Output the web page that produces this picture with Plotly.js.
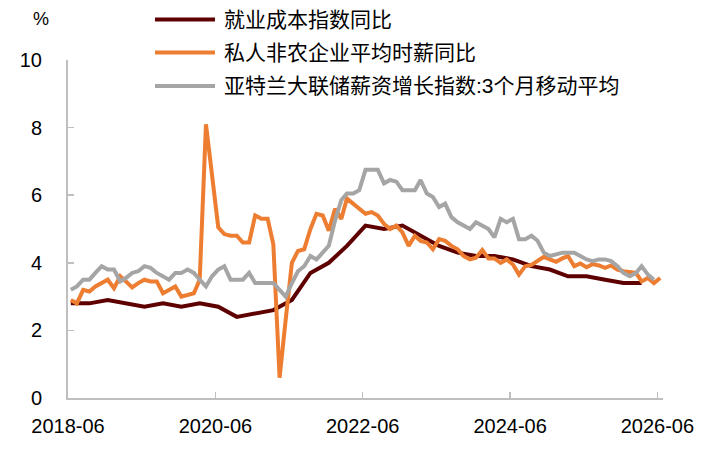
<!DOCTYPE html>
<html>
<head>
<meta charset="utf-8">
<script src="https://cdn.plot.ly/plotly-3.0.1.min.js"></script>
<style>html,body{margin:0;padding:0;background:#fff;}#chart{width:715px;height:453px;}</style>
</head>
<body>
<div id="chart"></div>
<script>
// ---- Data ----
const seriesNames = ["就业成本指数同比", "私人非农企业平均时薪同比", "亚特兰大联储薪资增长指数:3个月移动平均"];
const startYear = 2018, startMonth = 6; // first observation 2018-06

// 就业成本指数同比 (quarterly, 2018-06 .. 2026-03)
const eciValues = [2.8,2.8,2.9,2.8,2.7,2.8,2.7,2.8,2.7,2.4,
                   2.5,2.6,2.9,3.7,4.0,4.5,5.1,5.0,5.1,4.8,
                   4.5,4.3,4.2,4.2,4.1,3.9,3.8,3.6,3.6,3.5,
                   3.4,3.4];

// 私人非农企业平均时薪同比 (monthly, 2018-06 .. 2026-06)
const aheValues = [2.9,2.8,3.2,3.15,3.3,3.4,3.5,3.25,3.6,3.45,
                   3.27,3.4,3.5,3.45,3.45,3.1,3.2,3.3,3.0,3.05,
                   3.1,3.5,8.1,6.6,5.05,4.85,4.8,4.8,4.6,4.6,
                   5.4,5.3,5.3,4.55,0.6,2.3,4.0,4.35,4.4,5.0,
                   5.45,5.4,4.95,5.6,5.3,5.9,5.75,5.6,5.45,5.5,
                   5.4,5.15,5.0,5.1,4.9,4.5,4.8,4.65,4.6,4.4,
                   4.7,4.65,4.5,4.4,4.2,4.1,4.15,4.38,4.13,4.13,
                   4.0,4.1,3.95,3.65,3.9,3.94,4.05,4.18,4.1,4.03,
                   4.13,4.2,3.9,3.98,3.87,3.96,3.92,3.85,3.92,3.8,
                   3.75,3.72,3.7,3.45,3.55,3.4,3.55];

// 亚特兰大联储薪资增长指数:3个月移动平均 (monthly, 2018-06 .. 2026-05)
const atlValues = [3.2,3.3,3.5,3.5,3.7,3.9,3.8,3.8,3.45,3.55,
                   3.7,3.75,3.9,3.85,3.7,3.6,3.5,3.7,3.7,3.8,
                   3.7,3.5,3.3,3.6,3.8,3.9,3.5,3.5,3.5,3.7,
                   3.4,3.4,3.4,3.4,3.2,3.0,3.4,3.75,3.9,4.2,
                   4.1,4.3,4.5,5.25,5.85,6.05,6.05,6.15,6.75,6.75,
                   6.75,6.35,6.45,6.4,6.15,6.15,6.15,6.45,6.05,5.95,
                   5.65,5.75,5.35,5.2,5.1,5.0,5.2,5.1,5.0,4.75,
                   5.3,5.2,5.3,4.7,4.7,4.8,4.65,4.3,4.2,4.25,
                   4.3,4.3,4.3,4.2,4.1,4.05,4.1,4.1,4.05,3.9,
                   3.7,3.6,3.7,3.9,3.65,3.5];

const xTickLabelsStart = "2018-06-01";
const yTicks = [0, 2, 4, 6, 8, 10];

// ---- Date categories (mid-month positions) ----
function monthDates(n, step) {
  const out = [];
  for (let i = 0; i < n; i++) {
    const m = (startMonth - 1) + i * step;
    const y = startYear + Math.floor(m / 12);
    const mm = (m % 12) + 1;
    out.push(y + "-" + String(mm).padStart(2, "0") + "-15");
  }
  return out;
}
const eciDates = monthDates(eciValues.length, 3);
const aheDates = monthDates(aheValues.length, 1);
const atlDates = monthDates(atlValues.length, 1);

const colors = ["#5E0000", "#ED7D31", "#A5A5A5"];
const fontFam = "Liberation Sans, Arial, Noto Sans CJK SC, sans-serif";

const traces = [
  {x: eciDates, y: eciValues, name: seriesNames[0], mode: "lines", line: {color: colors[0], width: 4}},
  {x: aheDates, y: aheValues, name: seriesNames[1], mode: "lines", line: {color: colors[1], width: 4}},
  {x: atlDates, y: atlValues, name: seriesNames[2], mode: "lines", line: {color: colors[2], width: 4}}
];

// ---- Layout helpers (pixel -> paper) ----
const W = 715, H = 453, ML = 68, MR = 52, MT = 60, MB = 55;
const PW = W - ML - MR, PH = H - MT - MB;
const px = v => (v - ML) / PW;
const py = v => (H - MB - v) / PH;

const legendRows = [19.5, 52.5, 86];
const shapes = [], annotations = [];
legendRows.forEach((r, i) => {
  shapes.push({type: "line", xref: "paper", yref: "paper", x0: px(155), x1: px(215), y0: py(r), y1: py(r),
               line: {color: colors[i], width: 4}});
  annotations.push({xref: "paper", yref: "paper", x: px(222), y: py(r), xanchor: "left", yanchor: "middle",
                    text: seriesNames[i], showarrow: false, font: {family: fontFam, size: 21, color: "#000"}});
});
annotations.push({xref: "paper", yref: "paper", x: px(41), y: py(19), xanchor: "center", yanchor: "middle",
                  text: "%", showarrow: false, font: {family: fontFam, size: 18, color: "#000"}});

const layout = {
  width: W, height: H,
  margin: {l: ML, r: MR, t: MT, b: MB, pad: 0},
  paper_bgcolor: "#fff", plot_bgcolor: "#fff",
  showlegend: false,
  font: {family: fontFam, size: 20, color: "#000"},
  xaxis: {
    type: "date", range: ["2018-06-01", "2026-06-29"],
    tick0: xTickLabelsStart, dtick: "M24", tickformat: "%Y-%m",
    ticks: "inside", ticklen: 6, tickwidth: 1.5, tickcolor: "#BFBFBF",
    showline: true, linecolor: "#BFBFBF", linewidth: 2,
    showgrid: false, zeroline: false, ticklabelstandoff: 9,
    tickfont: {family: fontFam, size: 20, color: "#000"}
  },
  yaxis: {
    range: [0, 10], tickvals: yTicks, ticktext: yTicks.map(String),
    ticks: "inside", ticklen: 6, tickwidth: 1.5, tickcolor: "#BFBFBF",
    showline: true, linecolor: "#BFBFBF", linewidth: 2,
    showgrid: false, zeroline: false, ticklabelstandoff: 20,
    tickfont: {family: fontFam, size: 20, color: "#000"}
  },
  shapes: shapes,
  annotations: annotations
};

Plotly.newPlot("chart", traces, layout, {displayModeBar: false, staticPlot: true});
</script>
</body>
</html>
